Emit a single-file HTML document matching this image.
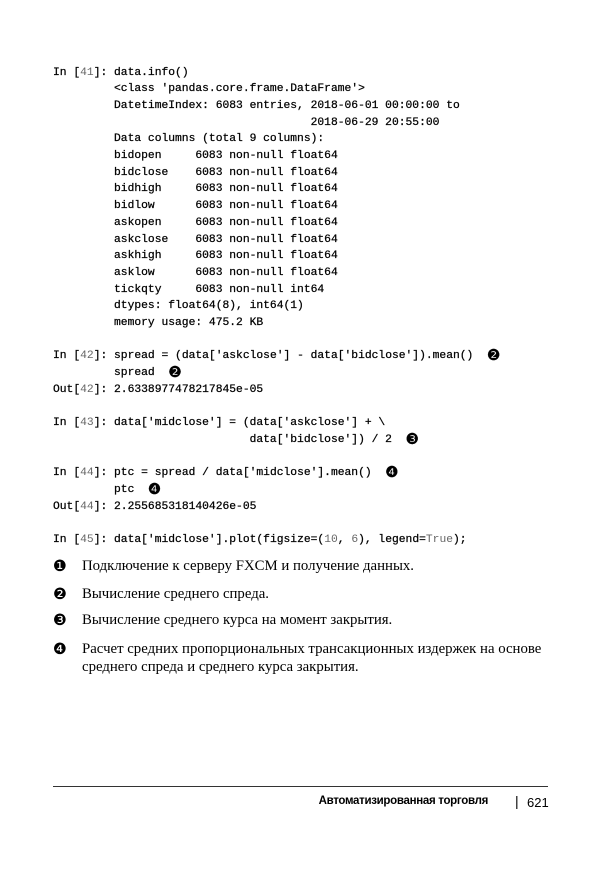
<!DOCTYPE html>
<html><head><meta charset="utf-8"><style>
body{margin:0;width:600px;height:870px;background:#fff;position:relative;overflow:hidden;color:#000}
pre{position:absolute;left:53px;top:64.5px;margin:0;font-family:"Liberation Mono",monospace;font-size:11.3px;line-height:16.7px;-webkit-text-stroke:0.25px #000}
.n{color:#666;-webkit-text-stroke:0}
pre .c{font-family:"DejaVu Sans",sans-serif;font-size:15px;display:inline-block;height:16.7px;line-height:14px;vertical-align:top;overflow:visible}
.b{position:absolute;left:53px;font-family:"Liberation Serif",serif;font-size:14.8px;line-height:18px}
.b .c{position:absolute;left:0;top:0;font-family:"DejaVu Sans",sans-serif;font-size:15.5px}
.b span.t{position:absolute;left:29px;white-space:nowrap}
.hr{position:absolute;left:53px;top:786px;width:495px;height:1px;background:#333}
.ft{position:absolute;top:795px;font-family:"Liberation Sans",sans-serif;font-size:12px}
</style></head><body>
<pre>In [<span class="n">41</span>]: data.info()
         &lt;class 'pandas.core.frame.DataFrame'&gt;
         DatetimeIndex: 6083 entries, 2018-06-01 00:00:00 to
                                      2018-06-29 20:55:00
         Data columns (total 9 columns):
         bidopen     6083 non-null float64
         bidclose    6083 non-null float64
         bidhigh     6083 non-null float64
         bidlow      6083 non-null float64
         askopen     6083 non-null float64
         askclose    6083 non-null float64
         askhigh     6083 non-null float64
         asklow      6083 non-null float64
         tickqty     6083 non-null int64
         dtypes: float64(8), int64(1)
         memory usage: 475.2 KB

In [<span class="n">42</span>]: spread = (data['askclose'] - data['bidclose']).mean()  <span class="c">❷</span>
         spread  <span class="c">❷</span>
Out[<span class="n">42</span>]: 2.6338977478217845e-05

In [<span class="n">43</span>]: data['midclose'] = (data['askclose'] + \
                             data['bidclose']) / 2  <span class="c">❸</span>

In [<span class="n">44</span>]: ptc = spread / data['midclose'].mean()  <span class="c">❹</span>
         ptc  <span class="c">❹</span>
Out[<span class="n">44</span>]: 2.255685318140426e-05

In [<span class="n">45</span>]: data['midclose'].plot(figsize=(<span class="n">10</span>, <span class="n">6</span>), legend=<span class="n">True</span>);</pre>
<div class="b" style="top:557px"><span class="c">❶</span><span class="t">Подключение к серверу FXCM и получение данных.</span></div>
<div class="b" style="top:585px"><span class="c">❷</span><span class="t">Вычисление среднего спреда.</span></div>
<div class="b" style="top:611px"><span class="c">❸</span><span class="t">Вычисление среднего курса на момент закрытия.</span></div>
<div class="b" style="top:640px"><span class="c">❹</span><span class="t">Расчет средних пропорциональных трансакционных издержек на основе<br>среднего спреда и среднего курса закрытия.</span></div>
<div class="hr"></div>
<div class="ft" style="right:112px;font-weight:bold;font-size:11.5px;letter-spacing:-0.3px">Автоматизированная торговля</div>
<div class="ft" style="left:515px;font-size:14px;top:793px">|</div>
<div class="ft" style="left:527px;font-size:13px;top:795px">621</div>
</body></html>
